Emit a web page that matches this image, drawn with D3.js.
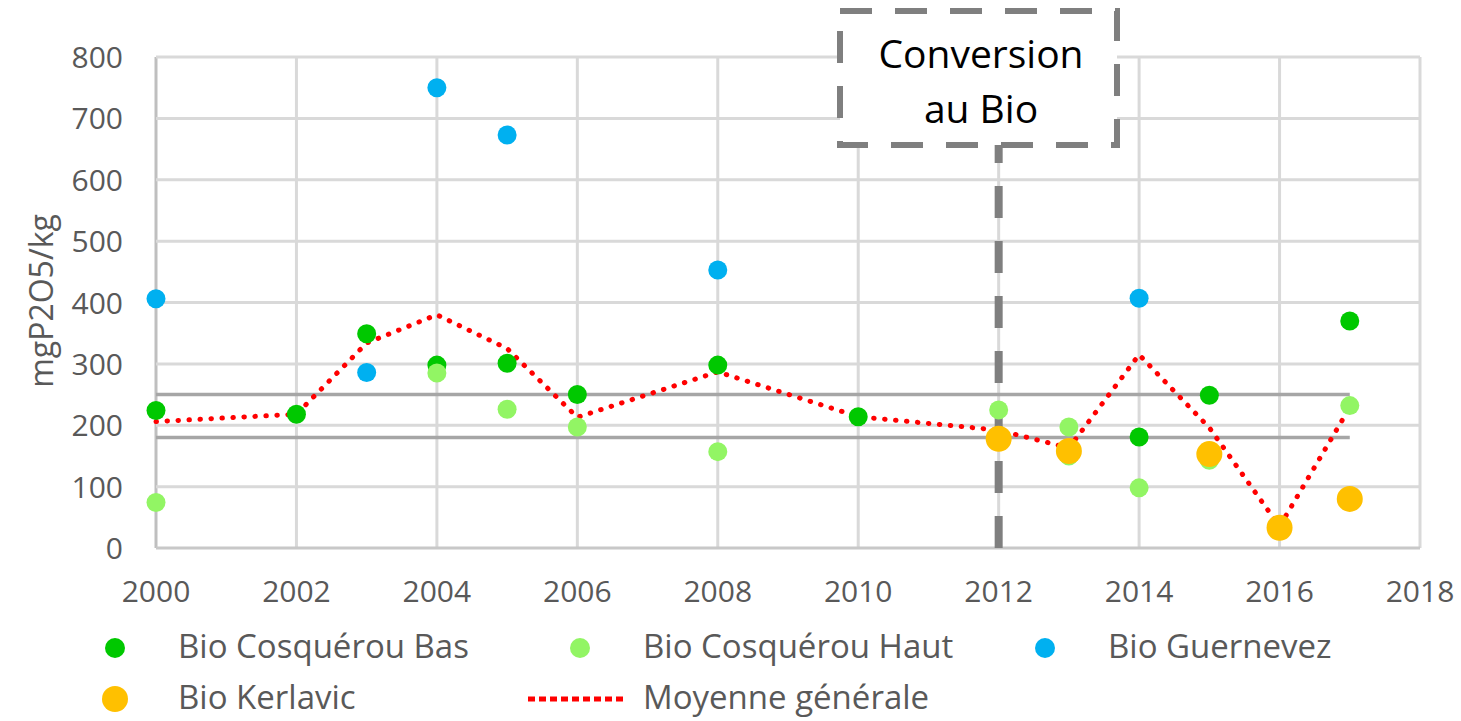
<!DOCTYPE html>
<html>
<head>
<meta charset="utf-8">
<script src="https://cdn.jsdelivr.net/npm/d3@7"></script>
<style>
  body { margin: 0; background: #fff; }
  text { font-family: "Open Sans", sans-serif; }
</style>
</head>
<body>
<div id="grafique"></div>
<script>
// Données : [année, mgP2O5/kg]
var cosquerouBas = [[2000, 224], [2002, 218], [2003, 349], [2004, 298], [2005, 301], [2006, 250],
  [2008, 298], [2010, 214], [2014, 181], [2015, 249], [2017, 370]];
var cosquerouHaut = [[2000, 74], [2004, 285], [2005, 226], [2006, 197], [2008, 157], [2012, 225],
  [2013, 197], [2013, 150], [2014, 98], [2015, 143], [2017, 232]];
var guernevez = [[2000, 406], [2003, 286], [2004, 750], [2005, 673], [2008, 453], [2014, 407]];
var kerlavic = [[2012, 178], [2013, 158], [2015, 153], [2016, 33], [2017, 80]];
var moyenne = [[2000, 206], [2002, 218], [2003, 334], [2004, 380], [2005, 325], [2006, 213],
  [2008, 287], [2010, 214], [2012, 192], [2013, 163], [2014, 315], [2015, 196], [2016, 35], [2017, 229]];

// lignes de référence horizontales (de 2000 à 2017)
var references = [250, 180];
var refAnnees = [2000, 2017];
var anneeConversion = 2012;

var xTicks = [2000, 2002, 2004, 2006, 2008, 2010, 2012, 2014, 2016, 2018];
var yTicks = [0, 100, 200, 300, 400, 500, 600, 700, 800];

var width = 1461, height = 721;

var svg = d3.select("#grafique")
  .append("svg")
  .attr("width", width)
  .attr("height", height);

// échelles
var x = d3.scaleLinear().domain([2000, 2018]).range([156, 1420]);
var y = d3.scaleLinear().domain([0, 800]).range([548, 57]);

// grille verticale
svg.append("g")
  .selectAll("line")
  .data(xTicks)
  .enter()
  .append("line")
  .attr("x1", function (d) { return x(d); })
  .attr("x2", function (d) { return x(d); })
  .attr("y1", y(0))
  .attr("y2", y(800))
  .style("stroke", function (d) { return d == 2000 ? "#bfbfbf" : "#d9d9d9"; })
  .style("stroke-width", 3);

// grille horizontale
svg.append("g")
  .selectAll("line")
  .data(yTicks)
  .enter()
  .append("line")
  .attr("x1", x(2000))
  .attr("x2", x(2018))
  .attr("y1", function (d) { return y(d); })
  .attr("y2", function (d) { return y(d); })
  .style("stroke", function (d) { return d == 0 ? "#c8c8c8" : "#d9d9d9"; })
  .style("stroke-width", 3);

// axe y
svg.append("g")
  .selectAll("text")
  .data(yTicks)
  .enter()
  .append("text")
  .attr("x", 123)
  .attr("y", function (d) { return y(d) + 11; })
  .attr("text-anchor", "end")
  .style("font-size", "30px")
  .style("fill", "#595959")
  .text(function (d) { return d; });

// axe x
svg.append("g")
  .selectAll("text")
  .data(xTicks)
  .enter()
  .append("text")
  .attr("x", function (d) { return x(d); })
  .attr("y", 602)
  .attr("text-anchor", "middle")
  .style("font-size", "30px")
  .style("fill", "#595959")
  .text(function (d) { return d; });

// titre axe y
svg.append("text")
  .attr("transform", "translate(53,301) rotate(-90)")
  .attr("text-anchor", "middle")
  .style("font-size", "32px")
  .style("fill", "#595959")
  .text("mgP2O5/kg");

// lignes de référence
svg.append("g")
  .selectAll("line")
  .data(references)
  .enter()
  .append("line")
  .attr("x1", x(refAnnees[0]))
  .attr("x2", x(refAnnees[1]))
  .attr("y1", function (d) { return y(d); })
  .attr("y2", function (d) { return y(d); })
  .style("stroke", "#a6a6a6")
  .style("stroke-width", 3.5);

// ombre + ligne pointillée verticale "conversion"
var defs = svg.append("defs");
defs.append("filter")
  .attr("id", "flou")
  .append("feGaussianBlur")
  .attr("stdDeviation", 2);

svg.append("line")
  .attr("x1", x(anneeConversion) + 9)
  .attr("x2", x(anneeConversion) + 9)
  .attr("y1", y(0))
  .attr("y2", 148)
  .style("stroke", "#d0d0d0")
  .style("stroke-width", 7)
  .style("stroke-dasharray", "32,23")
  .attr("filter", "url(#flou)");

svg.append("line")
  .attr("x1", x(anneeConversion))
  .attr("x2", x(anneeConversion))
  .attr("y1", y(0))
  .attr("y2", 145)
  .style("stroke", "#7f7f7f")
  .style("stroke-width", 8)
  .style("stroke-dasharray", "32,23");

// ligne moyenne générale
var ligne = d3.line()
  .x(function (d) { return x(d[0]); })
  .y(function (d) { return y(d[1]); });

svg.append("path")
  .datum(moyenne)
  .attr("d", ligne)
  .style("fill", "none")
  .style("stroke", "#ff0000")
  .style("stroke-width", 5)
  .style("stroke-linecap", "round")
  .style("stroke-dasharray", "0.5,10.5");

// séries de points
var series = [
  { nom: "Bio Cosquérou Bas", data: cosquerouBas, couleur: "#00c800", r: 9.5 },
  { nom: "Bio Cosquérou Haut", data: cosquerouHaut, couleur: "#92f564", r: 9.5 },
  { nom: "Bio Guernevez", data: guernevez, couleur: "#00b0f0", r: 9.5 },
  { nom: "Bio Kerlavic", data: kerlavic, couleur: "#ffc000", r: 13 }
];

series.forEach(function (s) {
  svg.append("g")
    .selectAll("circle")
    .data(s.data)
    .enter()
    .append("circle")
    .attr("cx", function (d) { return x(d[0]); })
    .attr("cy", function (d) { return y(d[1]); })
    .attr("r", s.r)
    .style("fill", s.couleur);
});

// encadré "Conversion au Bio"
svg.append("rect")
  .attr("x", 840)
  .attr("y", 11)
  .attr("width", 277)
  .attr("height", 134)
  .style("fill", "#fff")
  .style("stroke", "#7f7f7f")
  .style("stroke-width", 6)
  .style("stroke-dasharray", "32,23");

svg.append("text")
  .attr("x", 981)
  .attr("y", 68)
  .attr("text-anchor", "middle")
  .style("font-size", "39px")
  .style("fill", "#000")
  .text("Conversion");
svg.append("text")
  .attr("x", 981)
  .attr("y", 123)
  .attr("text-anchor", "middle")
  .style("font-size", "39px")
  .style("fill", "#000")
  .text("au Bio");

// légende
var legende = [
  { nom: "Bio Cosquérou Bas", couleur: "#00c800", r: 10, type: "point" },
  { nom: "Bio Cosquérou Haut", couleur: "#92f564", r: 10, type: "point" },
  { nom: "Bio Guernevez", couleur: "#00b0f0", r: 10, type: "point" },
  { nom: "Bio Kerlavic", couleur: "#ffc000", r: 13, type: "point" },
  { nom: "Moyenne générale", couleur: "#ff0000", r: 0, type: "ligne" }
];

var legX = function (i) { return 115 + (i % 3) * 465; };
var legY = function (i) { return i < 3 ? 648 : 699; };

legende.forEach(function (d, i) {
  if (d.type == "point") {
    svg.append("circle")
      .attr("cx", legX(i))
      .attr("cy", legY(i))
      .attr("r", d.r)
      .style("fill", d.couleur);
  } else {
    svg.append("line")
      .attr("x1", legX(i) - 52)
      .attr("x2", legX(i) + 45)
      .attr("y1", legY(i))
      .attr("y2", legY(i))
      .style("stroke", d.couleur)
      .style("stroke-width", 5)
      .style("stroke-dasharray", "7,4");
  }
  svg.append("text")
    .attr("x", legX(i) + 63)
    .attr("y", legY(i) + 10)
    .style("font-size", "33px")
    .style("fill", "#595959")
    .text(d.nom);
});
</script>
</body>
</html>
